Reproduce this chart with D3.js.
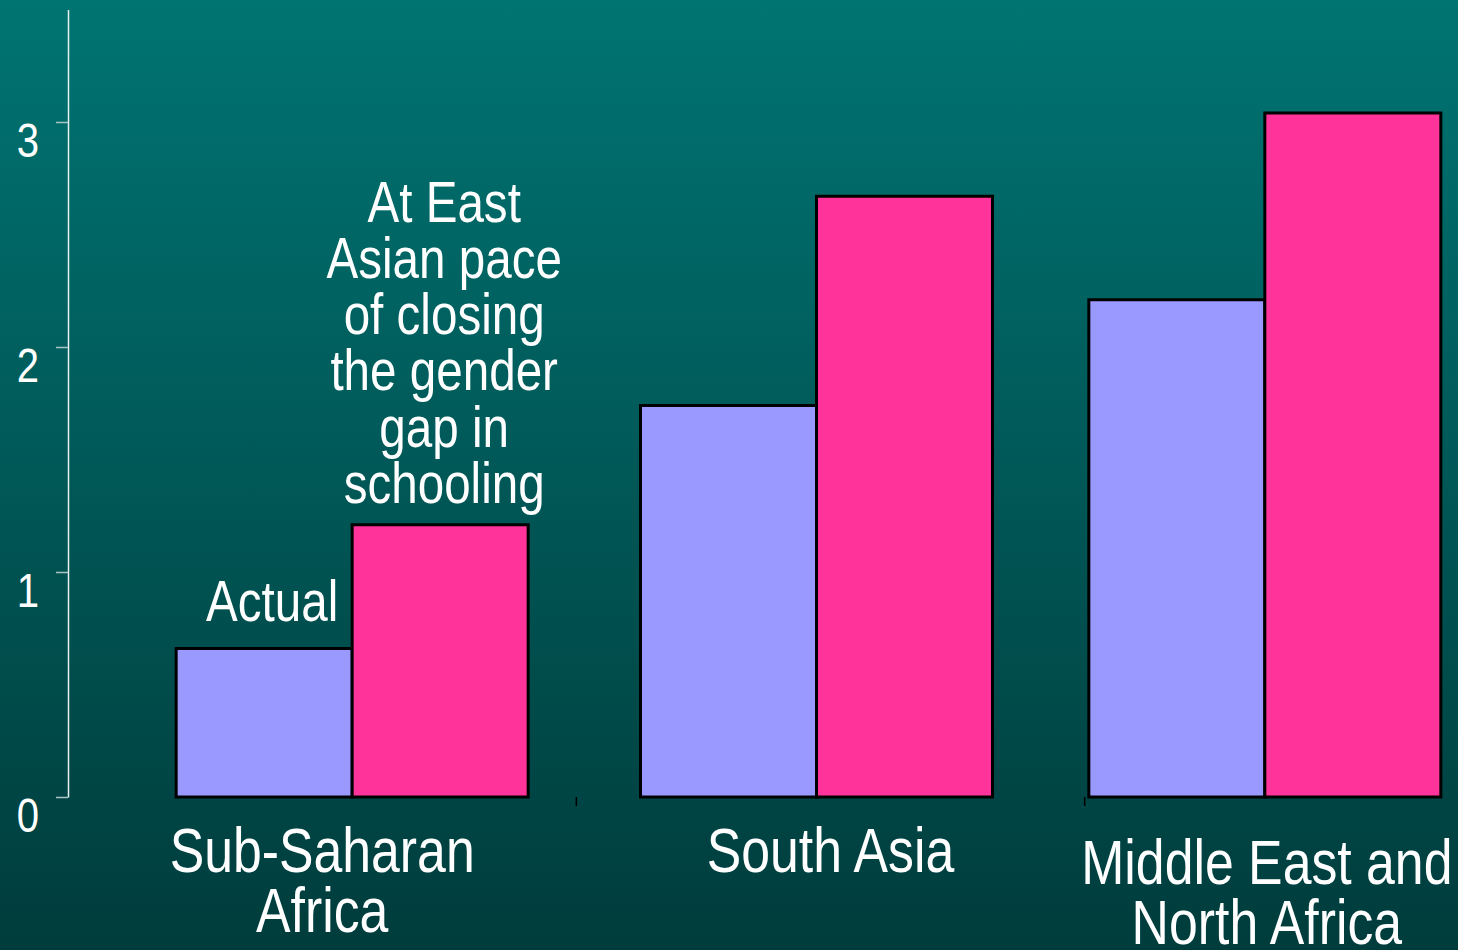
<!DOCTYPE html>
<html><head><meta charset="utf-8">
<script src="https://cdn.jsdelivr.net/npm/d3@7"></script>
<style>
html,body{margin:0;padding:0;background:#004040;overflow:hidden;}
svg{display:block;}
text{font-family:"Liberation Sans",Arial,sans-serif;fill:#fff;}
</style>
</head><body><svg id="c" width="1458" height="950"></svg>
<script>
// ---- data ----
const categoryNames = ["Sub-Saharan Africa", "South Asia", "Middle East and North Africa"];
const categoryLines = [["Sub-Saharan", "Africa"], ["South Asia"], ["Middle East and", "North Africa"]];
const seriesNames = ["Actual", "At East Asian pace of closing the gender gap in schooling"];
const seriesLabelLines = [["Actual"], ["At East", "Asian pace", "of closing", "the gender", "gap in", "schooling"]];
const actual = [0.66, 1.74, 2.21];
const eastAsianPace = [1.21, 2.67, 3.04];
const yTicks = [0, 1, 2, 3];
const yTickLabels = ["0", "1", "2", "3"];

// ---- layout ----
const W = 1458, H = 950;
const NARROW = 0.835;
const groupShift = [30, -14, -74];
const labelShift = [0, 0, -72];
const labelDy = [0, 0, 12];
const groupWidth = 352;
const colors = ["#9999ff", "#ff3399"];

const svg = d3.select("#c");
const defs = svg.append("defs");
const grad = defs.append("linearGradient").attr("id", "bg").attr("x1", 0).attr("y1", 0).attr("x2", 0).attr("y2", 1);
grad.append("stop").attr("offset", "0%").attr("stop-color", "#007472");
grad.append("stop").attr("offset", "100%").attr("stop-color", "#003c3c");
svg.append("rect").attr("width", W).attr("height", H).attr("fill", "url(#bg)");

const y = d3.scaleLinear().domain([0, 3.5]).range([797, 9.5]);
const x = d3.scaleBand().domain(categoryNames).range([68, 1593]);
const inner = d3.scaleBand().domain(seriesNames).range([0, groupWidth]);

const rows = categoryNames.map((c, i) => ({ c, i, vals: [actual[i], eastAsianPace[i]] }));

function narrowText(cx, firstBase, lines, size, lh) {
  const g = svg.append("g").attr("transform", `translate(${cx},${firstBase}) scale(${NARROW},1)`);
  g.append("text").attr("text-anchor", "middle").style("font-size", size + "px")
    .selectAll("tspan").data(lines).join("tspan")
    .attr("x", 0).attr("y", (d, k) => k * lh).text(d => d);
}

// y axis
const yAxis = d3.axisLeft(y).tickValues(yTicks).tickFormat((d, i) => yTickLabels[i]).tickSize(12).tickSizeOuter(0);
const ag = svg.append("g").attr("transform", "translate(68,0)").call(yAxis);
ag.select(".domain").attr("stroke", "#e8f0f0").attr("stroke-width", 1.5);
ag.selectAll(".tick line").attr("stroke", "#a9c4c4").attr("stroke-width", 1.5);
ag.selectAll(".tick text").attr("x", -40 / NARROW).attr("dy", 0).attr("y", 34)
  .attr("transform", `scale(${NARROW},1)`)
  .attr("text-anchor", "middle").attr("fill", "#fff").style("font-size", "48px")
  .style("font-family", '"Liberation Sans",Arial,sans-serif');

// category separator ticks
svg.selectAll("line.sep").data(categoryNames.slice(1)).join("line")
  .attr("x1", d => x(d)).attr("x2", d => x(d))
  .attr("y1", y(0)).attr("y2", y(0) + 9)
  .attr("stroke", "#000").attr("stroke-width", 1.5);

// bars
const groups = svg.selectAll("g.grp").data(rows).join("g")
  .attr("transform", d => `translate(${x(d.c) + x.bandwidth() / 2 - groupWidth / 2 + groupShift[d.i]},0)`);
groups.selectAll("rect").data(d => d.vals.map((v, j) => ({ v, j, s: seriesNames[j] }))).join("rect")
  .attr("x", d => inner(d.s))
  .attr("width", inner.bandwidth())
  .attr("y", d => y(d.v))
  .attr("height", d => y(0) - y(d.v))
  .attr("fill", d => colors[d.j])
  .attr("stroke", "#000").attr("stroke-width", 3);

// category labels
rows.forEach(d => {
  narrowText(x(d.c) + x.bandwidth() / 2 + labelShift[d.i], 872 + labelDy[d.i], categoryLines[d.i], 62, 60);
});

// series annotations above first group
const g0 = rows[0];
const g0left = x(g0.c) + x.bandwidth() / 2 - groupWidth / 2 + groupShift[0];
const annoGap = [28, 22];
seriesNames.forEach((s, j) => {
  const lines = seriesLabelLines[j];
  const cx = g0left + inner(s) + inner.bandwidth() / 2 + (j === 0 ? 8 : 4);
  const lastBase = y(g0.vals[j]) - annoGap[j];
  narrowText(cx, lastBase - (lines.length - 1) * 56.2, lines, 57, 56.2);
});
</script>
</body></html>
